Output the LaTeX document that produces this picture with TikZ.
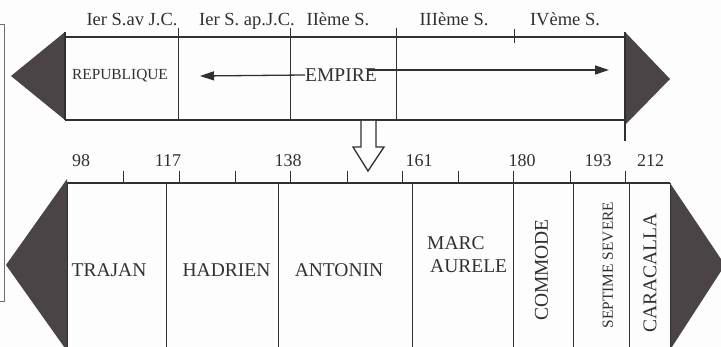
\documentclass[tikz,border=0pt]{standalone}
\usepackage{fontspec}
\setmainfont{Liberation Serif}
\usetikzlibrary{arrows.meta}
\definecolor{ink}{HTML}{303030}
\definecolor{tri}{HTML}{4A4446}
\definecolor{paper}{HTML}{FDFDFD}
\begin{document}
\begin{tikzpicture}[x=1pt,y=-1pt,
  ln/.style={draw=ink,line width=1.3pt},
  divln/.style={draw=ink,line width=1pt},
  headfill/.style={fill=tri,draw=none},
  centlbl/.style={font=\fontsize{18.5}{20}\selectfont,text=ink,inner sep=0pt,anchor=base},
  yearlbl/.style={font=\fontsize{18}{20}\selectfont,text=ink,inner sep=0pt,anchor=base},
  kinglbl/.style={font=\fontsize{19.5}{21}\selectfont,text=ink,inner sep=0pt},
  smalllbl/.style={font=\fontsize{15.4}{17}\selectfont,text=ink,inner sep=0pt},
  ptr/.style={draw=ink,line width=1.3pt,-{Triangle[length=14pt,width=9pt]}},
  hollow/.style={draw=ink,line width=1.3pt,fill=white,line join=miter}]
\useasboundingbox (0,0) rectangle (721,347);
\clip (0,0) rectangle (721,347);
\fill[paper] (0,0) rectangle (721,347);
% neighbouring frame at the left edge
\draw[draw=ink!70,line width=1pt] (-6,25) -- (4,25) -- (4,302) -- (-6,302);
% ===== top band =====
\fill[headfill] (65,32) -- (11,76) -- (65,120) -- cycle;
\fill[headfill] (625,32) -- (670,79) -- (625,125) -- cycle;
\draw[ln] (65,37) -- (625,37);
\draw[ln] (65,120) -- (625,120);
\draw[ln] (65,32) -- (65,120);
\draw[ln] (625,32) -- (625,141);
\foreach \xx in {178,290,396} \draw[divln] (\xx,28) -- (\xx,120);
\draw[divln] (514,29) -- (514,43);
\node[centlbl] (c1) at (132,25.5) {Ier S.av J.C.};
\node[centlbl] (c2) at (247,25.5) {Ier S. ap.J.C.};
\node[centlbl] (c3) at (338,25.5) {IIème S.};
\node[centlbl] (c4) at (454,25.5) {IIIème S.};
\node[centlbl] (c5) at (565,25.5) {IVème S.};
\node[smalllbl] (rep) at (120,76) {REPUBLIQUE};
\node[kinglbl] (emp) at (341,75) {EMPIRE};
\coordinate (lend) at (200,76);
\coordinate (rend) at (609,70);
\coordinate (rstart) at (368,70);
\draw[ptr] (emp.west) -- (lend);
\draw[ptr] (rstart) -- (rend);
% hollow down arrow
\draw[hollow] (361,121) -- (361,147) -- (353,147) -- (368,171) -- (384,147) -- (376,147) -- (376,121);
% ===== bottom band =====
\fill[headfill] (67,179) -- (6,265) -- (67,351) -- cycle;
\fill[headfill] (670,183) -- (725,265) -- (670,350) -- cycle;
\draw[ln] (67,183) -- (670,183);
\foreach \xx in {67,166,278,412,513,573,629,670} \draw[divln] (\xx,183) -- (\xx,350);
\foreach \xx in {123,179,235,290,347,402,458,513,570,625} \draw[divln] (\xx,171) -- (\xx,184);
\node[yearlbl] (y98) at (81,166.5) {98};
\node[yearlbl] (y117) at (168,166.5) {117};
\node[yearlbl] (y138) at (288,166.5) {138};
\node[yearlbl] (y161) at (419,166.5) {161};
\node[yearlbl] (y180) at (522,166.5) {180};
\node[yearlbl] (y193) at (598,166.5) {193};
\node[yearlbl] (y212) at (650.5,166.5) {212};
\node[kinglbl] (traj) at (109,270) {TRAJAN};
\node[kinglbl] (hadr) at (226.5,270) {HADRIEN};
\node[kinglbl] (anto) at (339,270) {ANTONIN};
\node[kinglbl,align=left,anchor=north west,font=\fontsize{19.5}{23.5}\selectfont] (marc) at (427,236) {MARC\\\hspace{3pt}AURELE};
\node[kinglbl,rotate=90] (comm) at (541.5,270) {COMMODE};
\node[smalllbl,rotate=90] (sept) at (608,265) {SEPTIME SEVERE};
\node[kinglbl,rotate=90] (cara) at (650,273) {CARACALLA};
\end{tikzpicture}
\end{document}
